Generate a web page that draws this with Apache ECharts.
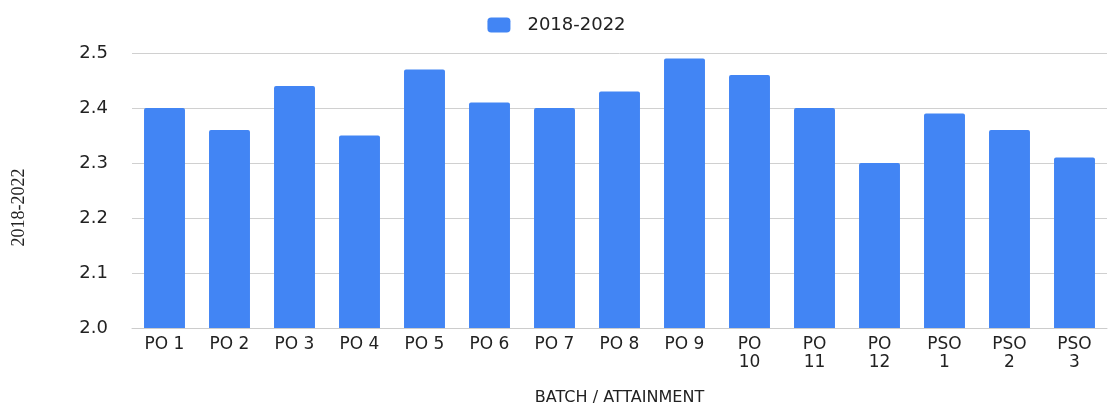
<!DOCTYPE html>
<html>
<head>
<meta charset="utf-8">
<script src="https://cdn.jsdelivr.net/npm/echarts@6/dist/echarts.min.js"></script>
<style>
html,body{margin:0;padding:0;background:#fff;}
#chart{width:1113px;height:408px;}
</style>
</head>
<body>
<div id="chart"></div>
<script>
var categories = ["PO 1","PO 2","PO 3","PO 4","PO 5","PO 6","PO 7","PO 8","PO 9","PO 10","PO 11","PO 12","PSO 1","PSO 2","PSO 3"];
var seriesName = "2018-2022";
var values = [2.40,2.36,2.44,2.35,2.47,2.41,2.40,2.43,2.49,2.46,2.40,2.30,2.39,2.36,2.31];
var yTicks = [2.0,2.1,2.2,2.3,2.4,2.5];
var xAxisTitle = "BATCH / ATTAINMENT";
var yAxisTitle = "2018-2022";

var FONT = "DejaVu Sans";
var chart = echarts.init(document.getElementById('chart'), null, {renderer:'canvas'});
chart.setOption({
  animation:false,
  textStyle:{fontFamily:FONT},
  legend:{
    top:11, left:'center',
    itemWidth:23, itemHeight:15, itemGap:16,
    icon:'roundRect',
    textStyle:{fontFamily:FONT,fontSize:18,color:'#222',padding:[0,0,0,12]},
    data:[seriesName]
  },
  grid:{left:132, right:6, top:53, bottom:80, containLabel:false, outerBoundsMode:'none'},
  xAxis:{
    type:'category',
    data:categories,
    name:xAxisTitle,
    nameLocation:'middle',
    nameGap:62,
    nameTextStyle:{fontFamily:FONT,fontSize:16,color:'#222'},
    axisLine:{show:true,lineStyle:{color:'#ccc'}},
    axisTick:{show:false},
    axisLabel:{
      interval:0, margin:8, color:'#222', fontFamily:FONT, fontSize:17, lineHeight:18,
      formatter:function(v){ return v.length>4 ? v.replace(' ','\n') : v; }
    }
  },
  yAxis:{
    type:'value',
    min:yTicks[0], max:yTicks[yTicks.length-1], interval:0.1,
    name:yAxisTitle,
    nameLocation:'middle',
    nameGap:104,
    nameTextStyle:{fontFamily:"Liberation Sans Narrow",fontSize:18,color:'#222',padding:[0,34,0,0]},
    axisLine:{show:false},
    axisTick:{show:false},
    axisLabel:{margin:24,color:'#222',fontFamily:FONT,fontSize:18,
      formatter:function(v){return v.toFixed(1);}},
    splitLine:{lineStyle:{color:'#d0d0d0'}}
  },
  series:[{
    name:seriesName,
    type:'bar',
    data:values,
    barCategoryGap:'37%',
    itemStyle:{color:'#4285F4',borderRadius:[2,2,0,0]}
  }]
});
</script>
</body>
</html>
